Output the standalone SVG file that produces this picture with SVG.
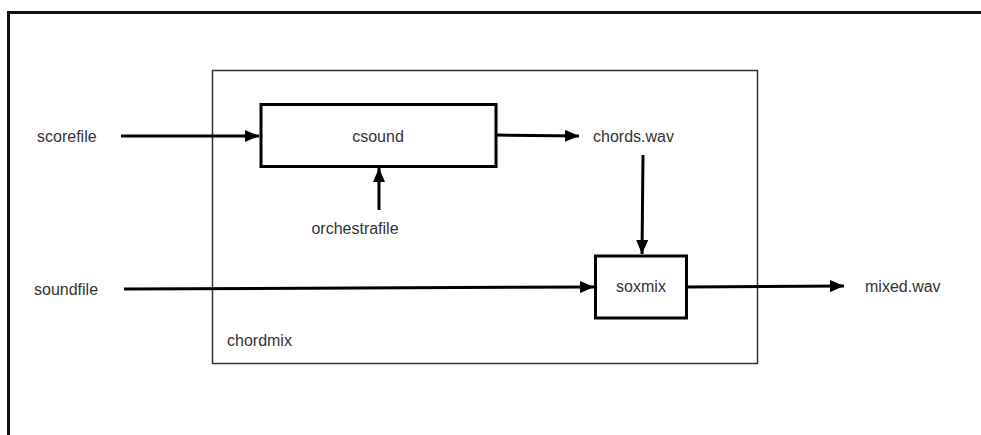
<svg xmlns="http://www.w3.org/2000/svg" width="981" height="435" viewBox="0 0 981 435">
<style>
text{font-family:"Liberation Sans",Arial,sans-serif;font-size:16px;fill:#333}
.box{fill:none;stroke:#000;stroke-width:3}
.con{fill:none;stroke:#000;stroke-width:3}
</style>
<defs>
<marker id="ah" viewBox="0 0 14 12" refX="14" refY="6" markerWidth="14" markerHeight="12" markerUnits="userSpaceOnUse" orient="auto">
<path d="M0,0 L14,6 L0,12 Z" fill="#000"/>
</marker>
</defs>
<rect width="981" height="435" fill="#fff"/>
<g id="frame">
<path d="M8.5,435 V12.5 H981" fill="none" stroke="#111" stroke-width="3"/>
</g>
<g id="chordmix">
<rect x="212.5" y="70.5" width="545" height="293" fill="none" stroke="#333" stroke-width="1.5"/>
<text x="227" y="346">chordmix</text>
</g>
<g id="csound">
<rect class="box" x="261" y="104.5" width="235" height="62"/>
<text x="378" y="142" text-anchor="middle">csound</text>
</g>
<g id="soxmix">
<rect class="box" x="595.5" y="256" width="91" height="62"/>
<text x="641" y="292" text-anchor="middle">soxmix</text>
</g>
<g id="scorefile"><text x="37" y="142">scorefile</text></g>
<g id="orchestrafile"><text x="355" y="234" text-anchor="middle">orchestrafile</text></g>
<g id="chordswav"><text x="593" y="142">chords.wav</text></g>
<g id="soundfile"><text x="34" y="295">soundfile</text></g>
<g id="mixedwav"><text x="865" y="292">mixed.wav</text></g>
<g id="connectors">
<line class="con" x1="121" y1="136" x2="259" y2="136" marker-end="url(#ah)"/>
<line class="con" x1="379" y1="210" x2="379" y2="168" marker-end="url(#ah)"/>
<line class="con" x1="497" y1="135" x2="579" y2="136" marker-end="url(#ah)"/>
<line class="con" x1="643" y1="155" x2="642" y2="254" marker-end="url(#ah)"/>
<line class="con" x1="124" y1="289" x2="594" y2="287" marker-end="url(#ah)"/>
<line class="con" x1="688" y1="287" x2="844" y2="286" marker-end="url(#ah)"/>
</g>
</svg>
